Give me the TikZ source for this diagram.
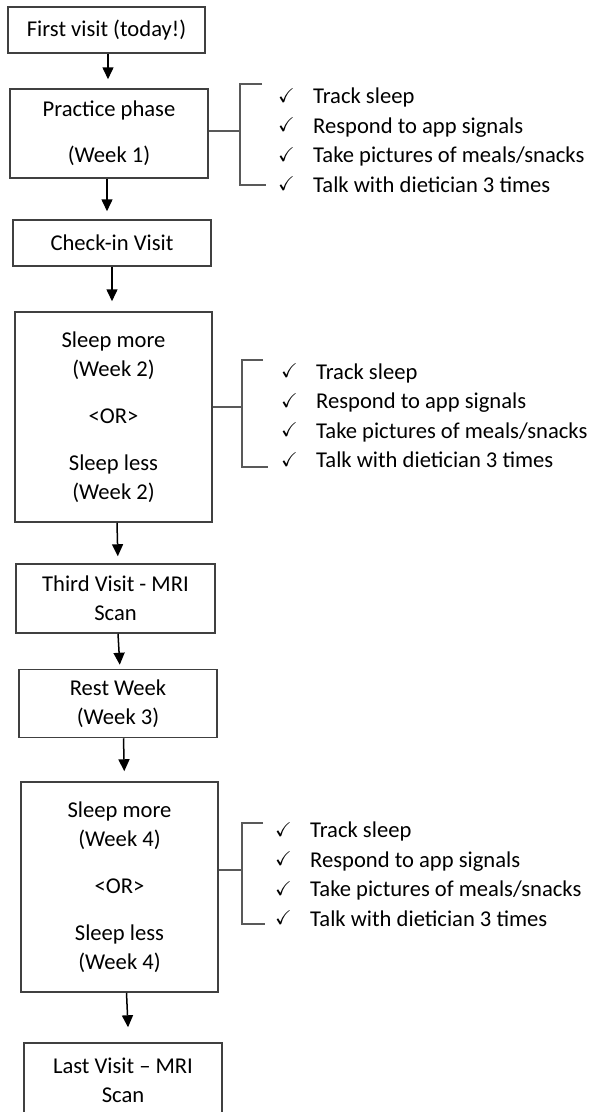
\documentclass[tikz,border=0pt]{standalone}
\usepackage{amssymb}
\usepackage{fontspec}
\setmainfont{Carlito}
\usetikzlibrary{arrows.meta}

\tikzset{
	stage/.style={draw=black!75, line width=1.5pt, align=center, inner sep=0pt, font=\fontsize{22.6}{29}\selectfont},
	flow/.style={black, line width=1.5pt, -{Triangle[width=11pt,length=12pt]}, shorten >=9pt},
	brace/.style={black!65, line width=1.5pt},
	todo/.style={align=left, inner sep=0pt, anchor=west, font=\fontsize{22.6}{29.5}\selectfont}
}
\newcommand{\donemark}{\makebox[35pt][l]{\raisebox{1.5pt}{\fontsize{20}{20}\selectfont$\checkmark$}}}

\begin{document}
\begin{tikzpicture}[x=1pt, y=-1pt]
	\clip (0,0) rectangle (595,1112);
	\fill[white] (0,0) rectangle (595,1112);

	\node[stage, minimum width=197pt, minimum height=46pt] (b1) at (106.5,30) {First visit (today!)};
	\node[stage, minimum width=198pt, minimum height=89pt] (b2) at (109,133.5) {Practice phase\\[17pt](Week 1)};
	\node[stage, minimum width=198pt, minimum height=46pt] (b3) at (112,243) {Check-in Visit};
	\node[stage, minimum width=197pt, minimum height=210pt] (b4) at (113.5,417) {Sleep more\\(Week 2)\\[18pt]<OR>\\[18pt]Sleep less\\(Week 2)};
	\node[stage, minimum width=199pt, minimum height=69pt] (b5) at (115.5,598.5) {Third Visit - MRI\\Scan};
	\node[stage, minimum width=198pt, minimum height=68pt] (b6) at (118,703.5) {Rest Week\\(Week 3)};
	\node[stage, minimum width=197pt, minimum height=210pt] (b7) at (119.5,887) {Sleep more\\(Week 4)\\[18pt]<OR>\\[18pt]Sleep less\\(Week 4)};
	\node[stage, minimum width=198pt, minimum height=74pt] (b8) at (123,1080) {Last Visit -- MRI\\Scan};

	\node[todo] (l1) at (278,140) {\donemark Track sleep\\ \donemark Respond to app signals\\ \donemark Take pictures of meals/snacks\\ \donemark Talk with dietician 3 times};
	\node[todo] (l2) at (281,415.5) {\donemark Track sleep\\ \donemark Respond to app signals\\ \donemark Take pictures of meals/snacks\\ \donemark Talk with dietician 3 times};
	\node[todo] (l3) at (275,874) {\donemark Track sleep\\ \donemark Respond to app signals\\ \donemark Take pictures of meals/snacks\\ \donemark Talk with dietician 3 times};

	\draw[flow] ([xshift=1.5pt]b1.south) -- ([xshift=-1pt]b2.north);
	\draw[flow, shorten >=8pt] ([xshift=-2pt]b2.south) -- ([xshift=-5pt]b3.north);
	\draw[flow, shorten >=10pt] (b3.south) -- ([xshift=-1.5pt]b4.north);
	\draw[flow, shorten >=7pt] ([xshift=3.5pt]b4.south) -- ([xshift=2.5pt]b5.north);
	\draw[flow, shorten >=4pt] ([xshift=2.5pt]b5.south) -- ([xshift=2pt]b6.north);
	\draw[flow, shorten >=10pt] ([xshift=5.5pt]b6.south) -- ([xshift=5pt]b7.north);
	\draw[flow, shorten >=15pt] ([xshift=7pt]b7.south) -- ([xshift=5.7pt]b8.north);

	\draw[brace] ([yshift=2.5pt]b2.east) -- ++(32,0);
	\draw[brace] (262,84) -| (240,185) -- (266,185);
	\draw[brace] ([yshift=10pt]b4.east) -- ++(30,0);
	\draw[brace] (263,360) -| (242,467) -- (268,467);
	\draw[brace] ([yshift=17pt]b7.east) -- ++(24,0);
	\draw[brace] (263,823) -| (242,924) -- (265,924);
\end{tikzpicture}
\end{document}
